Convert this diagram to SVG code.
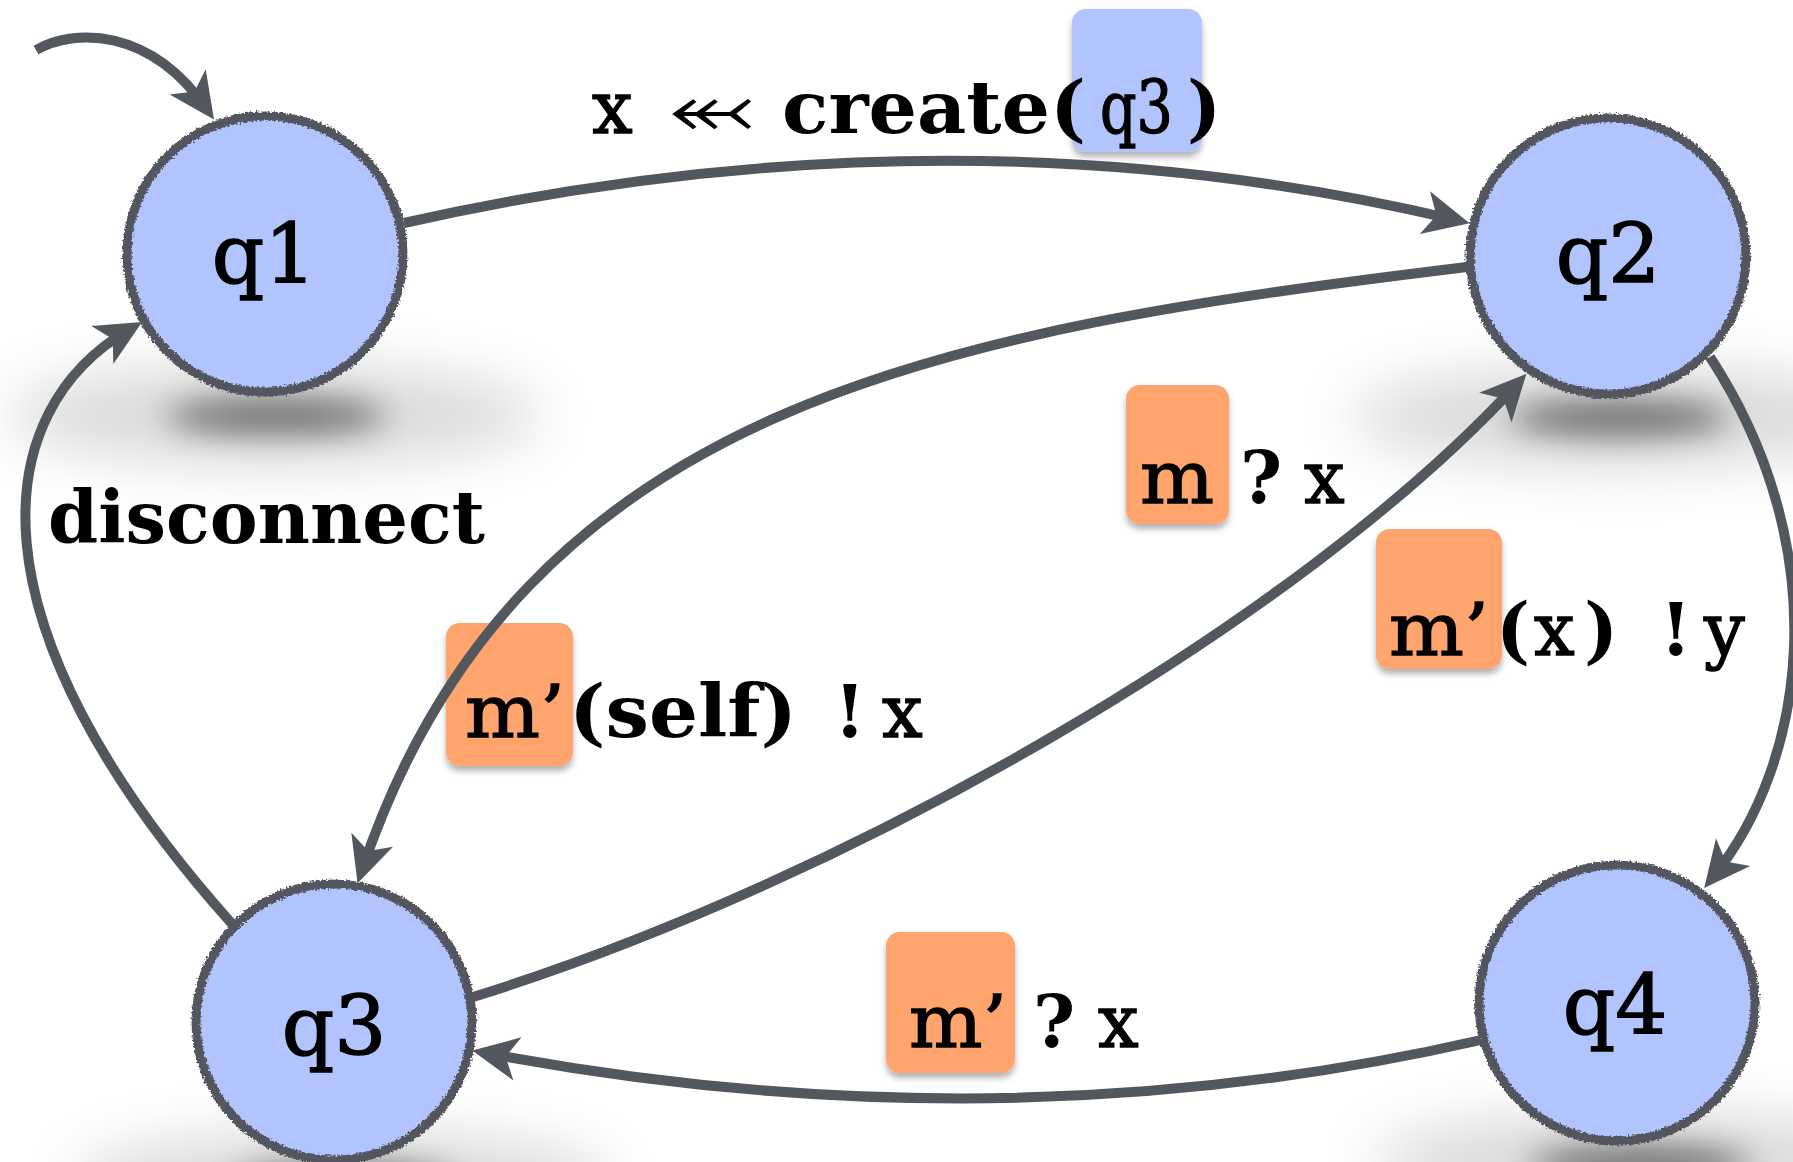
<svg xmlns="http://www.w3.org/2000/svg" width="1793" height="1162" viewBox="0 0 1793 1162">
  <defs>
    <style>
      .fill{fill:#b1c4fd}
      .ring{fill:none;stroke:#53575e;stroke-width:9}
      .edge{fill:none;stroke:#53575e;stroke-width:10;marker-end:url(#ah)}
      .t{font-family:"DejaVu Serif","Liberation Serif",serif;font-size:72px;fill:#000;stroke:#000;stroke-width:1.4}
      .b{font-weight:bold;stroke:none}
      .nm{font-size:82px;text-anchor:middle}
      .tag-o{fill:#ffa46d;filter:url(#drop)}
      .tag-b{fill:#b1c4fd;filter:url(#drop)}
      .core{fill:#000;opacity:0.5;filter:url(#soft)}
      .haze{fill:#000;opacity:0.15;filter:url(#softer)}
    </style>
    <filter id="rough" x="-10%" y="-10%" width="120%" height="120%">
      <feTurbulence type="fractalNoise" baseFrequency="0.5" numOctaves="2" seed="3" result="n"/>
      <feDisplacementMap in="SourceGraphic" in2="n" scale="6" xChannelSelector="R" yChannelSelector="G"/>
    </filter>
    <filter id="soft" x="-60%" y="-300%" width="220%" height="700%">
      <feGaussianBlur stdDeviation="16"/>
    </filter>
    <filter id="softer" x="-50%" y="-200%" width="200%" height="500%">
      <feGaussianBlur stdDeviation="30"/>
    </filter>
    <filter id="drop" x="-20%" y="-20%" width="140%" height="140%">
      <feDropShadow dx="0" dy="5" stdDeviation="3" flood-color="#000" flood-opacity="0.3"/>
    </filter>
    <marker id="ah" markerUnits="userSpaceOnUse" viewBox="-50 -25 70 50" markerWidth="70" markerHeight="50" refX="0" refY="0" orient="auto">
      <path d="M14,0 L-32,-22 L-20,0 L-32,22 Z" fill="#53575e"/>
    </marker>
  </defs>

  <rect width="1793" height="1162" fill="#fff"/>

  <!-- floor shadows under the states -->
  <g id="shadows">
    <ellipse class="haze" cx="274" cy="415" rx="270" ry="50"/>
    <ellipse class="core" cx="276" cy="416" rx="110" ry="18"/>
    <ellipse class="haze" cx="1618" cy="417" rx="270" ry="50"/>
    <ellipse class="core" cx="1620" cy="418" rx="110" ry="18"/>
    <ellipse class="haze" cx="342" cy="1182" rx="270" ry="50"/>
    <ellipse class="core" cx="344" cy="1183" rx="110" ry="18"/>
    <ellipse class="haze" cx="1640" cy="1163" rx="270" ry="50"/>
    <ellipse class="core" cx="1640" cy="1164" rx="110" ry="18"/>
  </g>

  <!-- states -->
  <g id="q1">
    <circle class="fill" cx="265" cy="254" r="138"/>
    <circle class="ring" cx="265" cy="254" r="138" filter="url(#rough)"/>
    <text class="t nm" x="264" y="283">q1</text>
  </g>
  <g id="q2">
    <circle class="fill" cx="1608" cy="256" r="138"/>
    <circle class="ring" cx="1608" cy="256" r="138" filter="url(#rough)"/>
    <text class="t nm" x="1608" y="283">q2</text>
  </g>
  <g id="q3">
    <circle class="fill" cx="334" cy="1022" r="138"/>
    <circle class="ring" cx="334" cy="1022" r="138" filter="url(#rough)"/>
    <text class="t nm" x="334" y="1055">q3</text>
  </g>
  <g id="q4">
    <circle class="fill" cx="1617" cy="1003" r="138"/>
    <circle class="ring" cx="1617" cy="1003" r="138" filter="url(#rough)"/>
    <text class="t nm" x="1615" y="1034">q4</text>
  </g>

  <!-- highlight tags behind label parts -->
  <g id="tags">
    <rect class="tag-b" x="1072" y="9" width="130" height="143" rx="14"/>
    <rect class="tag-o" x="1126" y="385" width="103" height="139" rx="14"/>
    <rect class="tag-o" x="1376" y="529" width="126" height="140" rx="14"/>
    <rect class="tag-o" x="446" y="623" width="127" height="143" rx="14"/>
    <rect class="tag-o" x="886" y="932" width="129" height="141" rx="14"/>
  </g>

  <!-- transitions -->
  <g id="connectors">
    <path class="edge" d="M36,50 C75,28 150,28 206,108"/>
    <path class="edge" d="M404,223 Q950,100 1456,220"/>
    <path class="edge" d="M1467,267 C950,330 520,400 362,870"/>
    <path class="edge" d="M473,997 C850,880 1300,620 1517,384"/>
    <path class="edge" d="M1710,357 C1837,552 1806,762 1713,877"/>
    <path class="edge" d="M1481,1040 Q1000,1150 486,1053"/>
    <path class="edge" d="M233,925 C-40,620 -10,410 130,329"/>
  </g>

  <!-- transition labels -->
  <g id="labels">
    <g id="lbl-create">
      <text class="t" x="592" y="133">x</text>
      <text x="669" y="133" font-family="DejaVu Sans, sans-serif" font-size="72" textLength="86" lengthAdjust="spacingAndGlyphs">⬻</text>
      <text class="t b" x="782" y="133" textLength="304" lengthAdjust="spacingAndGlyphs">create(</text>
      <text class="t" x="1100" y="133" textLength="73" lengthAdjust="spacingAndGlyphs">q3</text>
      <text class="t b" x="1187" y="133">)</text>
    </g>
    <g id="lbl-recv-m">
      <text class="t" x="1140" y="503" textLength="74" lengthAdjust="spacingAndGlyphs">m</text>
      <text class="t b" x="1240" y="503">?</text>
      <text class="t" x="1304" y="503">x</text>
    </g>
    <g id="lbl-send-y">
      <text class="t" x="1389" y="655" textLength="100" lengthAdjust="spacingAndGlyphs">m’</text>
      <text class="t b" x="1496" y="655">(</text>
      <text class="t" x="1534" y="655">x</text>
      <text class="t b" x="1584" y="655">)</text>
      <text class="t b" x="1660" y="655">!</text>
      <text class="t" x="1704" y="655">y</text>
    </g>
    <g id="lbl-send-self">
      <text class="t" x="465" y="737" textLength="100" lengthAdjust="spacingAndGlyphs">m’</text>
      <text class="t b" x="569" y="737" textLength="228" lengthAdjust="spacingAndGlyphs">(self)</text>
      <text class="t b" x="834" y="737">!</text>
      <text class="t" x="882" y="737">x</text>
    </g>
    <g id="lbl-recv-m2">
      <text class="t" x="909" y="1047" textLength="98" lengthAdjust="spacingAndGlyphs">m’</text>
      <text class="t b" x="1033" y="1047">?</text>
      <text class="t" x="1098" y="1047">x</text>
    </g>
    <text id="lbl-disconnect" class="t b" x="48" y="543" textLength="437" lengthAdjust="spacingAndGlyphs">disconnect</text>
  </g>
</svg>
